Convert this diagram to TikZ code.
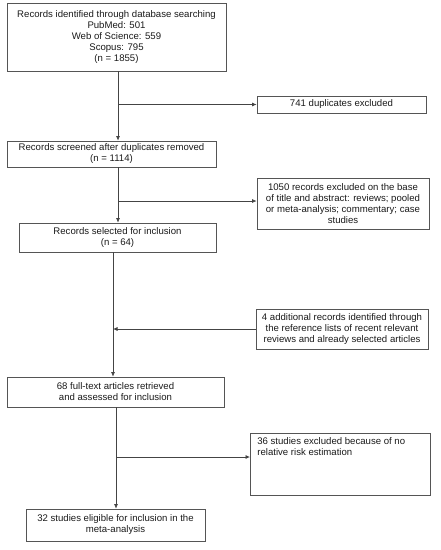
\documentclass[tikz,border=0pt]{standalone}
\usepackage{fontspec}
\setmainfont{Liberation Sans}
\usetikzlibrary{arrows.meta}
\definecolor{edge}{HTML}{555555}
\definecolor{ink}{HTML}{1A1A1A}
\tikzset{
  box/.style={draw=edge, line width=0.7pt, align=center, inner sep=1pt, text=ink,
    font=\fontsize{9.6}{11}\selectfont},
  conn/.style={draw=edge!80!black, line width=0.7pt},
  arr/.style={conn, -{Latex[length=4.5pt,width=4pt]}}
}
\begin{document}
\begin{tikzpicture}[x=1pt,y=-1pt]
\useasboundingbox (0,0) rectangle (440,550);
\node[box, minimum width=219pt, minimum height=68pt] (b1) at (116.5,37)
  {Records identified through database searching\\PubMed: 501\\Web of Science: 559\\Scopus: 795\\(n = 1855)};
\node[box, minimum width=169pt, minimum height=17pt] (dup) at (341.5,104.5) {741 duplicates excluded};
\node[box, minimum width=209pt, minimum height=26pt] (b2) at (111.5,154)
  {Records screened after duplicates removed\\(n = 1114)};
\node[box, minimum width=172pt, minimum height=51pt] (ex1) at (343,203.5)
  {1050 records excluded on the base\\of title and abstract: reviews; pooled\\or meta-analysis; commentary; case\\studies};
\node[box, minimum width=197pt, minimum height=29pt] (b3) at (117.5,237.5)
  {Records selected for inclusion\\(n = 64)};
\node[box, minimum width=172pt, minimum height=40pt] (add) at (342,329)
  {4 additional records identified through\\the reference lists of recent relevant\\reviews and already selected articles};
\node[box, minimum width=217pt, minimum height=30pt] (b4) at (115.5,392)
  {68 full-text articles retrieved\\and assessed for inclusion};
\node[box, inner sep=0pt, anchor=north west] (ex2) at (250,433)
  {\parbox[t][62pt][t]{180pt}{\raggedright\leftskip=7pt\vspace{4pt}36 studies excluded because of no\\relative risk estimation}};
\node[box, minimum width=179pt, minimum height=32pt] (b5) at (115.5,525)
  {32 studies eligible for inclusion in the\\meta-analysis};
% junctions
\coordinate (j1) at (118,104.5);
\coordinate (j2) at (118,201);
\coordinate (j3) at (113,329);
\coordinate (j4) at (116,457);
\draw[arr] (b1.south -| j1) -- (b2.north -| j1);
\draw[arr] (j1) -- (dup.west |- j1);
\draw[arr] (b2.south -| j2) -- (b3.north -| j2);
\draw[arr] (j2) -- (ex1.west |- j2);
\draw[arr] (b3.south -| j3) -- (b4.north -| j3);
\draw[arr] (add.west |- j3) -- (j3);
\draw[arr] (b4.south -| j4) -- (b5.north -| j4);
\draw[arr] (j4) -- (ex2.west |- j4);
\end{tikzpicture}
\end{document}
